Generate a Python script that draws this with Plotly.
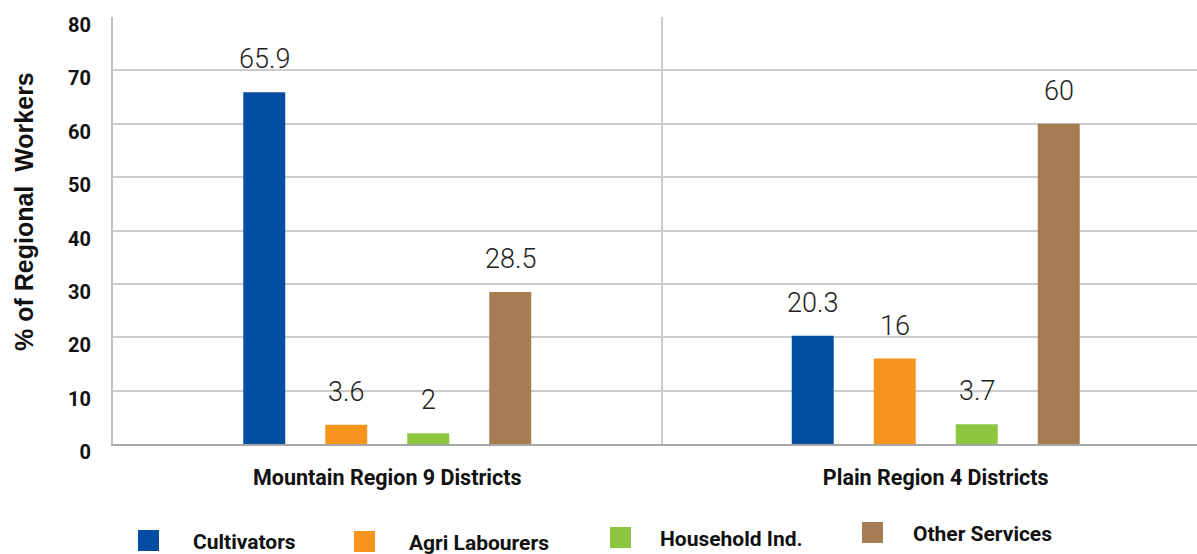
import plotly.graph_objects as go

# ---- data ----
categories = ["Mountain Region 9 Districts", "Plain Region 4 Districts"]
series_names = ["Cultivators", "Agri Labourers", "Household Ind.", "Other Services"]
cultivators = [65.9, 20.3]
agri_labourers = [3.6, 16]
household_ind = [2, 3.7]
other_services = [28.5, 60]
y_ticks = [0, 10, 20, 30, 40, 50, 60, 70, 80]
y_title = "% of Regional  Workers"

series_values = [cultivators, agri_labourers, household_ind, other_services]
colors = ["#034EA2", "#F7941D", "#8DC63F", "#A67C52"]

W, H = 1197, 554
ML, MR, MT, MB = 113, 0, 17, 110
PW, PH = W - ML - MR, H - MT - MB

fig = go.Figure()
for name, vals, col in zip(series_names, series_values, colors):
    fig.add_trace(go.Bar(name=name, x=categories, y=vals, marker_color=col,
                         marker_line_width=0, showlegend=False))

# value labels above bars
slot_px = 82
for i, vals in enumerate(series_values):
    for cat, v in zip(categories, vals):
        fig.add_annotation(x=cat, y=v, xref="x", yref="y",
                           text=f"{v:g}", showarrow=False,
                           xshift=(i - 1.5) * slot_px, yshift=15,
                           yanchor="bottom",
                           font=dict(family="Roboto", size=27, color="#222222", weight=300))

# custom legend
def px_x(p):
    return (p - ML) / PW

def px_y(p):
    return (H - MB - p) / PH

legend_sq_x = [138, 354, 610, 862]
legend_sq_y = [530, 531, 527, 522]
legend_txt_x = [191, 407, 658, 911]
sq = 21
for name, col, sx, sy, tx in zip(series_names, colors, legend_sq_x, legend_sq_y, legend_txt_x):
    fig.add_shape(type="rect", xref="paper", yref="paper",
                  x0=px_x(sx), x1=px_x(sx + sq), y0=px_y(sy + sq), y1=px_y(sy),
                  fillcolor=col, line_width=0)
    fig.add_annotation(xref="paper", yref="paper", x=px_x(tx), y=px_y(sy + 12),
                       text=name, showarrow=False, xanchor="left", yanchor="middle",
                       font=dict(family="Roboto", size=21, color="#111111", weight="bold"))

# y-axis title
fig.add_annotation(xref="paper", yref="paper", x=px_x(24), y=px_y(212),
                   text=y_title, textangle=-90, showarrow=False,
                   xanchor="center", yanchor="middle",
                   font=dict(family="Liberation Sans", size=25, color="#111111", weight="bold"))

fig.update_layout(
    width=W, height=H,
    margin=dict(l=ML, r=MR, t=MT, b=MB, pad=0, autoexpand=False),
    paper_bgcolor="white", plot_bgcolor="white",
    barmode="group", bargap=0.402, bargroupgap=0.488,
    font=dict(family="Roboto", color="#111111"),
)
fig.update_xaxes(
    type="category", range=[-0.5, -0.5 + PW / 548.5], automargin=False,
    showline=True, linecolor="#a6a6a6", linewidth=2,
    tickson="boundaries", showgrid=True, gridcolor="#cccccc", gridwidth=1.5,
    ticks="", ticklabelstandoff=13,
    tickfont=dict(family="Roboto", size=21.5, color="#111111", weight="bold"),
)
fig.update_yaxes(
    range=[0, 80], tickvals=y_ticks, automargin=False,
    showline=True, linecolor="#c0c0c0", linewidth=2,
    showgrid=True, gridcolor="#cccccc", gridwidth=1.5, zeroline=False,
    ticks="", ticklabelstandoff=16, ticklabelshift=8,
    tickfont=dict(family="Roboto", size=20, color="#111111", weight="bold"),
)

fig.write_html("out.html", config={"displayModeBar": False},
               post_script="document.body.style.margin='0px';document.body.style.overflow='hidden';")
